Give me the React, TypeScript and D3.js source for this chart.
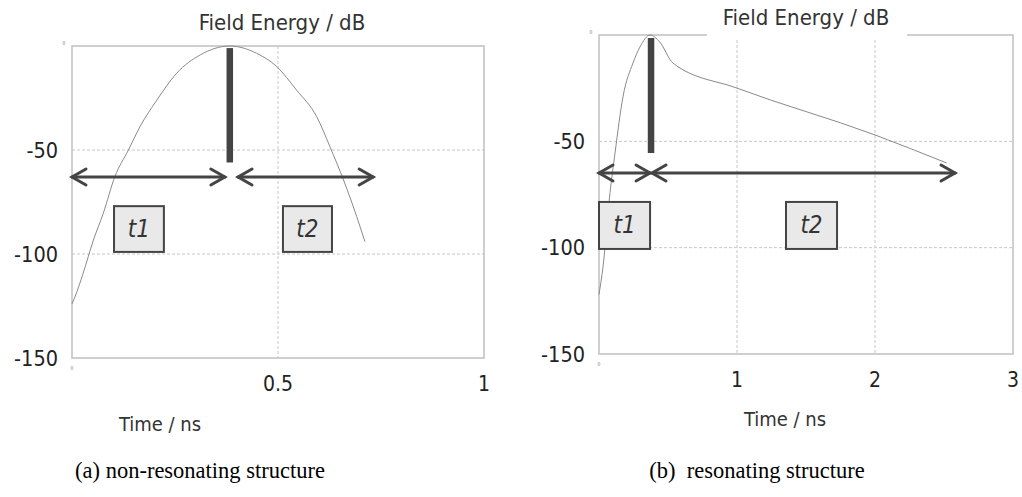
import React from "react";
import * as d3 from "d3";

// Panel (a): non-resonating structure — field energy (dB) vs time (ns)
const timeA = [0, 0.007, 0.027, 0.052, 0.076, 0.104, 0.137, 0.165, 0.206, 0.254, 0.311, 0.383, 0.448, 0.497, 0.545, 0.594, 0.626, 0.659, 0.691, 0.711];
const energyA = [-124, -120.7, -109.3, -93.3, -80.4, -62.8, -50, -38.8, -26, -13.1, -4.3, 0, -3.5, -9.9, -21.2, -34, -48.4, -64.4, -82, -94.1];

// Panel (b): resonating structure
const timeB = [0, 0.029, 0.08, 0.116, 0.174, 0.246, 0.297, 0.37, 0.44, 0.536, 1.0, 2.0, 2.52];
const energyB = [-122, -109, -74, -55.5, -29, -13.2, -5.6, 0, -3.3, -13.2, -25, -47, -60.2];

const yTicks = [0, -50, -100, -150];
const xTicksA = [0, 0.5, 1];
const xTicksB = [0, 1, 2, 3];
const yLabels = ["0", "-50", "-100", "-150"];
const xLabelsA = ["0", "0.5", "1"];
const xLabelsB = ["0", "1", "2", "3"];

// annotations in data units
const peakA = { t: 0.383, top: -1, bottom: -56 };
const peakB = { t: 0.377, top: -1.4, bottom: -55.5 };
const arrowsA = [
  { y: -63, x0: 0, x1: 0.371 },
  { y: -63, x0: 0.403, x1: 0.731 },
];
const arrowsB = [
  { y: -64.9, x0: 0, x1: 0.37 },
  { y: -64.9, x0: 0.384, x1: 2.58 },
];
const boxesA = [
  { label: "t1", x0: 0.102, x1: 0.223, y0: -77, y1: -99 },
  { label: "t2", x0: 0.512, x1: 0.631, y0: -77, y1: -99 },
];
const boxesB = [
  { label: "t1", x0: 0.0, x1: 0.37, y0: -78.5, y1: -100.6 },
  { label: "t2", x0: 1.355, x1: 1.725, y0: -78.5, y1: -100.6 },
];

const SANS = "'DejaVu Sans Condensed', 'DejaVu Sans', sans-serif";
const SERIF = "'Liberation Serif', 'Times New Roman', serif";
const DARK = "#444";

type PanelProps = {
  left: number; right: number; top: number; bottom: number;
  xMax: number; xTicks: number[]; xLabels: string[];
  times: number[]; energies: number[];
  peak: { t: number; top: number; bottom: number };
  arrows: { y: number; x0: number; x1: number }[];
  boxes: { label: string; x0: number; x1: number; y0: number; y1: number }[];
  titleX: number; titleY: number; titleGap: [number, number] | null;
  xTitleX: number; xTitleY: number;
  caption: string; captionX: number;
};

function Panel(p: PanelProps) {
  const x = d3.scaleLinear().domain([0, p.xMax]).range([p.left, p.right]);
  const y = d3.scaleLinear().domain([-150, 0]).range([p.bottom, p.top]);
  const pts: [number, number][] = p.times.map((t, i) => [t, p.energies[i]]);
  const line = d3.line<[number, number]>().x(d => x(d[0])).y(d => y(d[1])).curve(d3.curveMonotoneX);
  const grid = "#c8c8c8";
  return (
    <g>
      {/* grid */}
      {yTicks.slice(1, 3).map(v => (
        <line key={"gy" + v} x1={p.left} x2={p.right} y1={y(v)} y2={y(v)} stroke={grid} strokeDasharray="3,2" strokeWidth={1} />
      ))}
      {p.xTicks.slice(1, -1).map(v => (
        <line key={"gx" + v} x1={x(v)} x2={x(v)} y1={p.top} y2={p.bottom} stroke={grid} strokeDasharray="3,2" strokeWidth={1} />
      ))}
      {/* frame */}
      <rect x={p.left} y={p.top} width={p.right - p.left} height={p.bottom - p.top} fill="none" stroke="#c4c4c4" strokeWidth={1.6} />
      {/* title */}
      {p.titleGap && <rect x={p.titleGap[0]} y={p.top - 30} width={p.titleGap[1] - p.titleGap[0]} height={33} fill="#fff" />}
      <text x={p.titleX} y={p.titleY} textAnchor="middle" dominantBaseline="central" fontFamily={SANS} fontSize={22} fill="#333">Field Energy / dB</text>
      {/* y tick labels */}
      {yTicks.map((v, i) => i === 0 ? (
        <text key={"yl" + v} x={p.left - 8} y={y(v) - 3} textAnchor="middle" dominantBaseline="central" fontFamily={SANS} fontSize={5} fill="#777">{yLabels[i]}</text>
      ) : (
        <text key={"yl" + v} x={p.left - 14} y={y(v)} textAnchor="end" dominantBaseline="central" fontFamily={SANS} fontSize={21.5} fill="#222">{yLabels[i]}</text>
      ))}
      {/* x tick labels */}
      {p.xTicks.map((v, i) => i === 0 ? (
        <text key={"xl" + v} x={x(v)} y={p.bottom + 10} textAnchor="middle" dominantBaseline="central" fontFamily={SANS} fontSize={5} fill="#777">{p.xLabels[i]}</text>
      ) : (
        <text key={"xl" + v} x={x(v)} y={p.bottom + 26} textAnchor="middle" dominantBaseline="central" fontFamily={SANS} fontSize={21} fill="#222">{p.xLabels[i]}</text>
      ))}
      {/* x title */}
      <text x={p.xTitleX} y={p.xTitleY} textAnchor="middle" dominantBaseline="central" fontFamily={SANS} fontSize={20} fill="#333">Time / ns</text>
      {/* curve */}
      <path d={line(pts) || ""} fill="none" stroke="#8a8a8a" strokeWidth={1} />
      {/* peak bar */}
      <line x1={x(p.peak.t)} x2={x(p.peak.t)} y1={y(p.peak.top)} y2={y(p.peak.bottom)} stroke={DARK} strokeWidth={6.5} />
      {/* arrows */}
      {p.arrows.map((a, i) => {
        const xa = x(a.x0), xb = x(a.x1), ya = y(a.y);
        const L = 14, H = 8;
        return (
          <g key={"ar" + i} stroke={DARK} strokeWidth={3} fill="none" strokeLinecap="round">
            <line x1={xa} x2={xb} y1={ya} y2={ya} />
            <polyline points={`${xa + L},${ya - H} ${xa},${ya} ${xa + L},${ya + H}`} />
            <polyline points={`${xb - L},${ya - H} ${xb},${ya} ${xb - L},${ya + H}`} />
          </g>
        );
      })}
      {/* boxes */}
      {p.boxes.map((b, i) => (
        <g key={"bx" + i}>
          <rect x={x(b.x0)} y={y(b.y0)} width={x(b.x1) - x(b.x0)} height={y(b.y1) - y(b.y0)} fill="#e9e9e9" stroke={DARK} strokeWidth={2} />
          <text x={(x(b.x0) + x(b.x1)) / 2} y={(y(b.y0) + y(b.y1)) / 2} textAnchor="middle" dominantBaseline="central" fontFamily={SANS} fontStyle="italic" fontSize={24} fill="#333">{b.label}</text>
        </g>
      ))}
      {/* caption */}
      <text x={p.captionX} y={470} textAnchor="middle" dominantBaseline="central" fontFamily={SERIF} fontSize={22.5} fill="#000" style={{ whiteSpace: "pre" }}>{p.caption}</text>
    </g>
  );
}

export default function App() {
  return (
    <svg width={1022} height={497} style={{ position: "absolute", left: 0, top: 0, background: "#fff" }}>
      <rect width={1022} height={497} fill="#fff" />
      <Panel left={72} right={484} top={46} bottom={358} xMax={1} xTicks={xTicksA} xLabels={xLabelsA}
        times={timeA} energies={energyA} peak={peakA} arrows={arrowsA} boxes={boxesA}
        titleX={282} titleY={22} titleGap={null} xTitleX={160} xTitleY={424}
        caption="(a) non-resonating structure" captionX={200} />
      <Panel left={599} right={1013} top={35} bottom={354} xMax={3} xTicks={xTicksB} xLabels={xLabelsB}
        times={timeB} energies={energyB} peak={peakB} arrows={arrowsB} boxes={boxesB}
        titleX={806} titleY={17} titleGap={[707, 907]} xTitleX={785} xTitleY={419}
        caption="(b)  resonating structure" captionX={757} />
    </svg>
  );
}
